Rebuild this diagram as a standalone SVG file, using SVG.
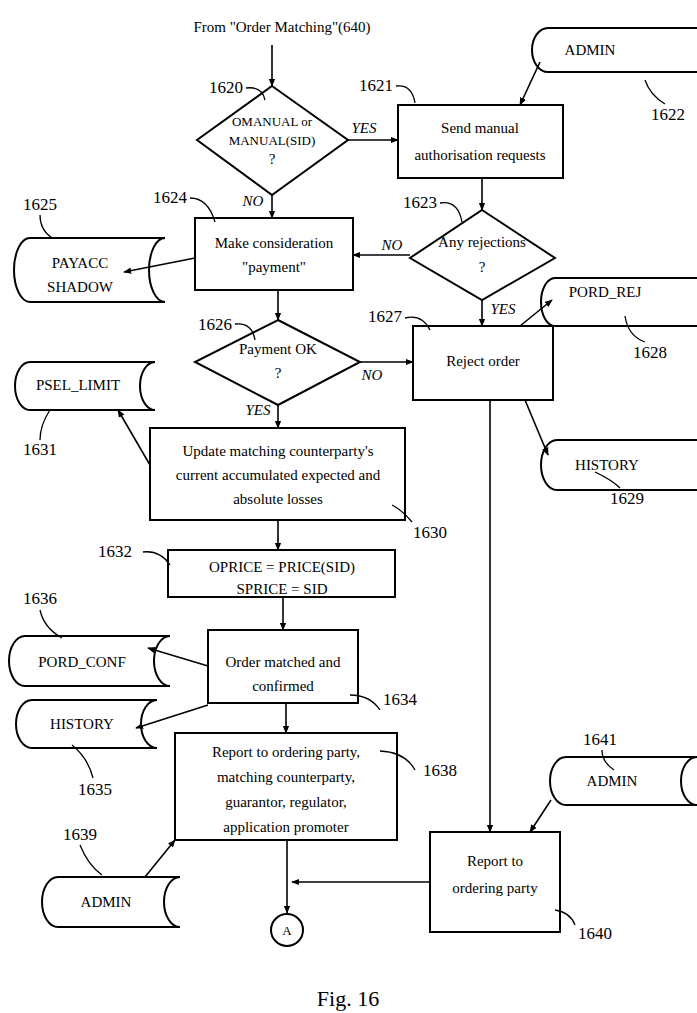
<svg xmlns="http://www.w3.org/2000/svg" width="697" height="1013" viewBox="0 0 697 1013">
<defs>
<marker id="ah" viewBox="0 0 10 10" refX="9" refY="5" markerWidth="8" markerHeight="8" orient="auto" markerUnits="userSpaceOnUse"><path d="M0,1 L10,5 L0,9 z" fill="#000"/></marker>
</defs>
<style>
text{font-family:"Liberation Serif",serif;font-size:15px;fill:#000;text-anchor:middle}
.lb{font-size:17px}
.it{font-style:italic}
.s{fill:none;stroke:#000;stroke-width:2}
.ld{fill:none;stroke:#000;stroke-width:1.3}
.c path,.c line{fill:none;stroke:#000;stroke-width:1.6;marker-end:url(#ah)}
</style>
<rect width="697" height="1013" fill="#fff"/>
<text x="282" y="32">From "Order Matching"(640)</text>
<g class="c" id="connectors">
<line x1="272" y1="45" x2="272" y2="86"/>
<line x1="348" y1="140" x2="398" y2="140"/>
<line x1="540" y1="62" x2="520" y2="105"/>
<line x1="272" y1="195" x2="272" y2="218"/>
<line x1="195" y1="258" x2="124" y2="272"/>
<line x1="482" y1="178" x2="482" y2="210"/>
<line x1="410" y1="255" x2="353" y2="255"/>
<line x1="482" y1="300" x2="482" y2="326"/>
<line x1="520" y1="326" x2="552" y2="300"/>
<line x1="525" y1="400" x2="548" y2="455"/>
<line x1="490" y1="400" x2="490" y2="832"/>
<line x1="278" y1="290" x2="278" y2="320"/>
<line x1="360" y1="362" x2="413" y2="362"/>
<line x1="278" y1="405" x2="278" y2="428"/>
<line x1="150" y1="465" x2="118" y2="410"/>
<line x1="278" y1="520" x2="278" y2="550"/>
<line x1="283" y1="597" x2="283" y2="630"/>
<line x1="208" y1="666" x2="148" y2="648"/>
<line x1="208" y1="705" x2="136" y2="728"/>
<line x1="286" y1="703" x2="286" y2="733"/>
<line x1="145" y1="877" x2="175" y2="840"/>
<line x1="551" y1="800" x2="530" y2="832"/>
<line x1="287" y1="840" x2="287" y2="913"/>
<line x1="430" y1="882" x2="292" y2="882"/>
</g>
<g id="n1620"><path class="s" d="M272,86 L348,140 L272,195 L197,140 Z"/><text x="272" y="126" style="font-size:13px">OMANUAL or</text><text x="272" y="145" style="font-size:13px">MANUAL(SID)</text><text x="272" y="164">?</text><text class="lb" x="226" y="93">1620</text><path class="ld" d="M246,88 Q262,86 265,100"/><text class="it" x="364" y="133">YES</text><text class="it" x="253" y="206">NO</text></g>
<g id="n1621"><rect class="s" x="398" y="105" width="165" height="73"/><text x="480" y="133">Send manual</text><text x="480" y="160">authorisation requests</text><text class="lb" x="376" y="91">1621</text><path class="ld" d="M396,86 Q412,84 415,103"/></g>
<g id="n1622"><path class="s" d="M697,28 H548 A16 22 0 0 0 548,72 H697"/><text x="590" y="55">ADMIN</text><text class="lb" x="668" y="120">1622</text><path class="ld" d="M665,104 Q650,95 645,80"/></g>
<g id="n1624"><rect class="s" x="195" y="218" width="158" height="72"/><text x="274" y="248">Make consideration</text><text x="274" y="272">"payment"</text><text class="lb" x="170" y="203">1624</text><path class="ld" d="M190,198 Q208,198 215,222"/></g>
<g id="n1625"><path class="s" d="M165,238 H30 A16 32 0 0 0 30,302 H165 M165,238 A16 32 0 0 0 165,302"/><text x="80" y="268">PAYACC</text><text x="80" y="292">SHADOW</text><text class="lb" x="40" y="210">1625</text><path class="ld" d="M40,215 Q40,230 52,238"/></g>
<g id="n1623"><path class="s" d="M482,210 L555,258 L482,300 L410,258 Z"/><text x="482" y="247">Any rejections</text><text x="482" y="272">?</text><text class="lb" x="420" y="208">1623</text><path class="ld" d="M440,203 Q458,200 462,222"/><text class="it" x="392" y="250">NO</text><text class="it" x="503" y="314">YES</text></g>
<g id="n1627"><rect class="s" x="413" y="326" width="140" height="74"/><text x="483" y="366">Reject order</text><text class="lb" x="385" y="322">1627</text><path class="ld" d="M405,318 Q422,314 430,330"/></g>
<g id="n1628"><path class="s" d="M697,278 H555 A14 24 0 0 0 555,326 H697"/><text x="605" y="297">PORD_REJ</text><text class="lb" x="650" y="358">1628</text><path class="ld" d="M645,342 Q628,336 625,316"/></g>
<g id="n1629"><path class="s" d="M697,440 H557 A16 25 0 0 0 557,490 H697"/><text x="607" y="470">HISTORY</text><text class="lb" x="627" y="504">1629</text><path class="ld" d="M620,488 Q612,480 595,472"/></g>
<g id="n1626"><path class="s" d="M278,320 L360,362 L278,405 L195,362 Z"/><text x="278" y="354">Payment OK</text><text x="278" y="378">?</text><text class="lb" x="215" y="330">1626</text><path class="ld" d="M235,324 Q252,322 255,340"/><text class="it" x="372" y="380">NO</text><text class="it" x="258" y="415">YES</text></g>
<g id="n1631"><path class="s" d="M155,362 H30 A15 24 0 0 0 30,410 H155 M155,362 A15 24 0 0 0 155,410"/><text x="78" y="390">PSEL_LIMIT</text><text class="lb" x="40" y="455">1631</text><path class="ld" d="M40,440 Q40,425 50,410"/></g>
<g id="n1630"><rect class="s" x="150" y="428" width="255" height="92"/><text x="278" y="456">Update matching counterparty's</text><text x="278" y="480">current accumulated expected and</text><text x="278" y="504">absolute losses</text><text class="lb" x="430" y="538">1630</text><path class="ld" d="M412,522 Q402,510 392,505"/></g>
<g id="n1632"><rect class="s" x="168" y="550" width="227" height="47"/><text x="282" y="572">OPRICE = PRICE(SID)</text><text x="282" y="594">SPRICE = SID</text><text class="lb" x="115" y="557">1632</text><path class="ld" d="M143,552 Q160,550 170,565"/></g>
<g id="n1634"><rect class="s" x="208" y="630" width="150" height="73"/><text x="283" y="667">Order matched and</text><text x="283" y="691">confirmed</text><text class="lb" x="400" y="705">1634</text><path class="ld" d="M350,695 Q370,695 380,710"/></g>
<g id="n1636"><path class="s" d="M170,636 H25 A16 25 0 0 0 25,686 H170 M170,636 A16 25 0 0 0 170,686"/><text x="82" y="667">PORD_CONF</text><text class="lb" x="40" y="604">1636</text><path class="ld" d="M40,610 Q44,628 62,638"/></g>
<g id="n1635"><path class="s" d="M157,700 H32 A16 24 0 0 0 32,748 H157 M157,700 A16 24 0 0 0 157,748"/><text x="82" y="729">HISTORY</text><text class="lb" x="95" y="795">1635</text><path class="ld" d="M93,778 Q88,758 72,745"/></g>
<g id="n1638"><rect class="s" x="175" y="733" width="222" height="107"/><text x="286" y="757">Report to ordering party,</text><text x="286" y="782">matching counterparty,</text><text x="286" y="807">guarantor, regulator,</text><text x="286" y="832">application promoter</text><text class="lb" x="440" y="776">1638</text><path class="ld" d="M380,751 Q405,752 415,770"/></g>
<g id="n1639"><path class="s" d="M180,877 H58 A16 25 0 0 0 58,927 H180 M180,877 A16 25 0 0 0 180,927"/><text x="106" y="907">ADMIN</text><text class="lb" x="80" y="840">1639</text><path class="ld" d="M80,845 Q88,865 102,875"/></g>
<g id="n1641"><path class="s" d="M697,757 H566 A16 24 0 0 0 566,805 H697 M697,757 A16 24 0 0 0 697,805"/><text x="612" y="786">ADMIN</text><text class="lb" x="600" y="745">1641</text><path class="ld" d="M602,750 Q602,762 614,770"/></g>
<g id="n1640"><rect class="s" x="430" y="832" width="130" height="100"/><text x="495" y="866">Report to</text><text x="495" y="893">ordering party</text><text class="lb" x="595" y="939">1640</text><path class="ld" d="M575,925 Q570,912 555,910"/></g>
<g id="nA"><circle class="s" cx="287" cy="930" r="16"/><text x="287" y="935" style="font-size:13px">A</text></g>
<text x="348" y="1006" style="font-size:22px">Fig. 16</text>
</svg>
